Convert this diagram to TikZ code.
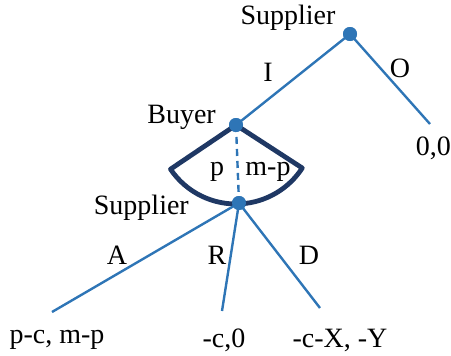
\documentclass[tikz,border=0pt]{standalone}
\usepackage{fontspec}
\setmainfont{Liberation Serif}
\definecolor{edgeblue}{HTML}{2E75B6}
\definecolor{navy}{HTML}{1F3864}
\begin{document}
\begin{tikzpicture}[x=1pt,y=-1pt,
  dotnode/.style={circle,fill=edgeblue,inner sep=0pt,minimum size=14pt},
  edge/.style={draw=edgeblue,line width=2.4pt},
  lab/.style={font=\fontsize{28}{30}\selectfont,inner sep=0pt}]
\useasboundingbox (0,0) rectangle (451,356);
% nodes
\node[dotnode] (s1) at (350,34) {};
\node[dotnode] (b) at (236,125) {};
\node[dotnode] (s2) at (239,203) {};
\coordinate (o) at (430,124);
\coordinate (a) at (52,312);
\coordinate (r) at (222,311);
\coordinate (d) at (320,308);
% info set fan
\draw[navy,line width=4.8pt,line join=round] (b.center) -- ++(146:79) arc[start angle=146,end angle=33,radius=79] -- cycle;
% edges
\draw[edge] (s1.center) -- (b.center);
\draw[edge] (s1.center) -- (o);
\draw[edge,dash pattern=on 7pt off 5pt] (b.center) -- (s2.center);
\draw[edge] (s2.center) -- (a);
\draw[edge] (s2.center) -- (r);
\draw[edge] (s2.center) -- (d);
\node[dotnode] at (s1) {};
\node[dotnode] at (b) {};
\node[dotnode] at (s2) {};
% labels
\node[lab] (ls1) at (288,18) {Supplier};
\node[lab] (li) at (268,72) {I};
\node[lab] (lo) at (400,68) {O};
\node[lab,anchor=east] (lb) at (216,117) {Buyer};
\node[lab,anchor=east] (l00) at (451,148) {0,0};
\node[lab] (lp) at (217,172) {p};
\node[lab] (lmp) at (268,172) {m-p};
\node[lab,anchor=east] (ls2) at (189,208) {Supplier};
\node[lab] (la) at (117,255) {A};
\node[lab] (lr) at (217,255) {R};
\node[lab] (ld) at (309,255) {D};
\node[lab] (pa) at (57,340) {p-c, m-p};
\node[lab] (pr) at (224,340) {-c,0};
\node[lab] (pd) at (340,340) {-c-X, -Y};
\end{tikzpicture}
\end{document}
